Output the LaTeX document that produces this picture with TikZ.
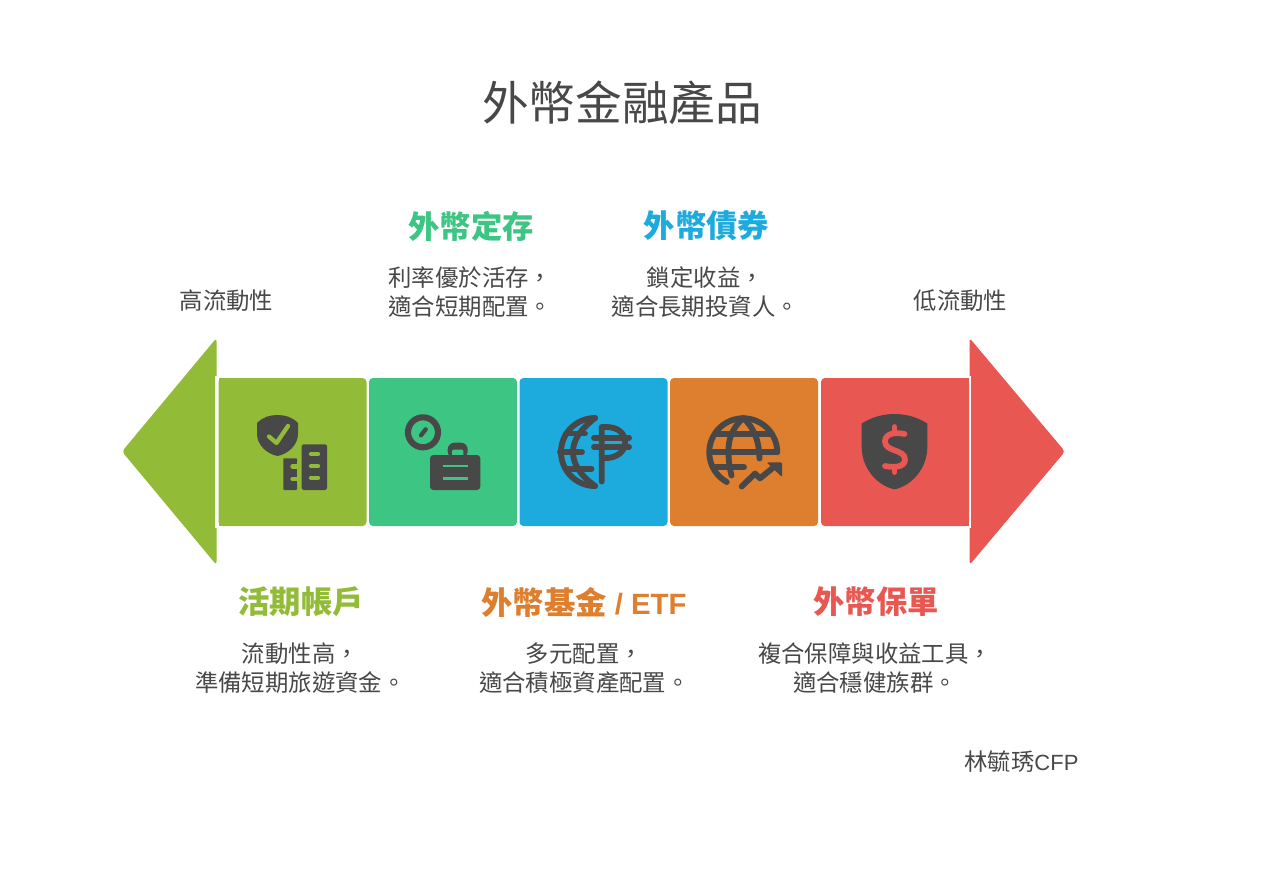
\documentclass[tikz,border=0pt]{standalone}
\usepackage{fontspec}
\setmainfont{Noto Sans CJK TC}
\newfontfamily\latinface{Liberation Sans}
\definecolor{cGreen}{HTML}{92BC37}
\definecolor{cTeal}{HTML}{3CC583}
\definecolor{cBlue}{HTML}{1DABDD}
\definecolor{cOrange}{HTML}{DD7F2E}
\definecolor{cRed}{HTML}{E85752}
\definecolor{cInk}{HTML}{484848}
\tikzset{
  tile/.style={minimum width=111pt,minimum height=111pt,inner sep=0pt,rounded corners=3pt},
  bodytext/.style={text=cInk,align=center,inner sep=0pt,font=\fontsize{17.55}{21.75}\selectfont},
  headtext/.style={inner sep=0pt,font=\fontsize{23.5}{28}\selectfont\bfseries},
  ico/.style={draw=cInk,line width=4.4pt,line cap=round,line join=round},
}
\begin{document}
\begin{tikzpicture}[x=0.75pt,y=-0.75pt]
\useasboundingbox[fill=white] (0,0) rectangle (1280,869);

% end arrows
\fill[cGreen,rounded corners=2.5pt] (216.5,338) -- (122,451.5) -- (216.5,565) -- cycle;
\fill[cRed,rounded corners=2.5pt] (969.5,338) -- (1065,451.5) -- (969.5,565) -- cycle;
\fill[white] (215,376) rectangle (218.5,528);
\fill[white] (968.8,376) rectangle (970.5,528);

% tiles
\node[tile,fill=cGreen] (tileA) at (292.5,452) {};
\fill[cGreen] (218.5,378) rectangle (230,526);
\node[tile,fill=cTeal] (tileB) at (443,452) {};
\node[tile,fill=cBlue] (tileC) at (593.5,452) {};
\node[tile,fill=cOrange] (tileD) at (744,452) {};
\node[tile,fill=cRed] (tileE) at (895,452) {};
\fill[cRed] (960,378) rectangle (968.8,526);

% icon: shield with check + buildings
\fill[cInk] (257,423) .. controls (263,417) and (270,415) .. (277.5,415)
  .. controls (285,415) and (292,417) .. (298,423)
  -- (298,434) .. controls (298,445) and (288,454) .. (277.5,456)
  .. controls (267,454) and (257,445) .. (257,434) -- cycle;
\draw[draw=cGreen,line width=3.2pt,line cap=round,line join=round] (269,436.5) -- (276.5,443) -- (288,426);
\fill[cInk,rounded corners=1.2pt] (301.7,444.3) rectangle (327,490);
\foreach \yy in {454,466,477.7}
  \draw[draw=cGreen,line width=3.2pt,line cap=round] (311,\yy) -- (318,\yy);
\fill[cInk,rounded corners=0.6pt] (283.3,458.3) rectangle (297,490);
\foreach \yy in {466.5,479}
  \draw[draw=cGreen,line width=3.2pt,line cap=round] (292.5,\yy) -- (298.5,\yy);
\fill[cGreen] (297,462) rectangle (299.5,484);

% icon: clock + briefcase
\draw[ico,line width=4.6pt] (423,432.3) circle [radius=15];
\draw[ico,line width=3.2pt] (421,435.3) -- (425.7,429.3);
\fill[cInk,rounded corners=5pt] (447.7,442.7) rectangle (467.7,458);
\fill[cTeal,rounded corners=1.5pt] (452,449.5) rectangle (463.4,458);
\fill[cInk,rounded corners=2.5pt] (430,455) rectangle (480.3,490);
\draw[draw=cTeal,line width=2.2pt] (443,466) -- (468,466);
\draw[draw=cTeal,line width=2.2pt] (443,478.7) -- (468,478.7);

% icon: half globe + peso
\draw[ico] (595,418) arc[start angle=270,end angle=90,radius=34];
\draw[ico] (595,418) .. controls (580,430) and (573,440) .. (573,452)
  .. controls (573,464) and (580,475) .. (595,486);
\draw[ico] (560,452) -- (582,452);
\draw[ico] (566,433.5) -- (585,433.5);
\draw[ico] (566,468.7) -- (591.5,468.7);
\draw[ico] (601.7,481.5) -- (601.7,427) -- (606,427)
  .. controls (618,427) and (625,433) .. (625,442.5)
  .. controls (625,452) and (616,458) .. (606,458) -- (601.7,458);
\draw[ico] (594,437.7) -- (629,437.7);
\draw[ico] (594,447.3) -- (629,447.3);

% icon: globe + trend
\draw[ico] (726.8,482) arc[start angle=119,end angle=360,radius=34];
\draw[ico] (743.3,418) .. controls (732,428) and (728,440) .. (728.5,452)
  .. controls (728.5,460) and (729.5,468) .. (731.5,475.5);
\draw[ico] (743.3,418) .. controls (754,428) and (759,440) .. (759.5,458.5);
\draw[ico] (716,434) -- (771,434);
\draw[ico] (713,452) -- (777,452);
\draw[ico] (716,467.3) -- (744,467.3);
\draw[ico] (741.7,486.5) -- (755,473.5) -- (760,478.3) -- (774,467);
\fill[cInk,rounded corners=1pt] (766.5,462.3) -- (782,462.3) -- (782,477) -- cycle;

% icon: shield with dollar
\fill[cInk] (861.7,423.5) .. controls (872,417) and (883,414) .. (894.5,414)
  .. controls (906,414) and (917,417) .. (927.3,423.5)
  -- (927.3,447) .. controls (927.3,469) and (911,486) .. (894.5,489.3)
  .. controls (878,486) and (861.7,469) .. (861.7,447) -- cycle;
\draw[draw=cRed,line width=4.3pt,line cap=round,line join=round]
  (904.5,434) .. controls (898,432.5) and (885,432) .. (885,441.5)
  .. controls (885,452) and (905,449) .. (905,459.5)
  .. controls (905,468) and (892,467.5) .. (885,466);
\draw[draw=cRed,line width=4.3pt,line cap=round] (894.5,427) -- (894.5,433);
\draw[draw=cRed,line width=4.3pt,line cap=round] (894.5,467) -- (894.5,472);

% texts
\node[text=cInk,inner sep=0pt,font=\fontsize{35}{42}\selectfont] (title) at (622,103) {外幣金融產品};
\node[headtext,text=cTeal] (headB) at (471,226) {外幣定存};
\node[headtext,text=cBlue] (headC) at (706.5,226) {外幣債券};
\node[headtext,text=cGreen] (headA) at (301,602) {活期帳戶};
\node[headtext,text=cOrange] (headD) at (584,602) {外幣基金{\latinface\fontsize{22}{28}\selectfont\ / ETF}};
\node[headtext,text=cRed] (headE) at (876,602) {外幣保單};
\node[bodytext] (bodyB) at (470.3,292) {利率優於活存，\\適合短期配置。};
\node[bodytext] (bodyC) at (705.3,292) {鎖定收益，\\適合長期投資人。};
\node[bodytext] (bodyA) at (300.3,668) {流動性高，\\準備短期旅遊資金。};
\node[bodytext] (bodyD) at (584.3,668) {多元配置，\\適合積極資產配置。};
\node[bodytext] (bodyE) at (875,668) {複合保障與收益工具，\\適合穩健族群。};
\node[bodytext] (high) at (226.5,300.5) {高流動性};
\node[bodytext] (low) at (960.5,300.5) {低流動性};
\node[bodytext,anchor=west] (author) at (964,762) {林毓琇{\latinface\fontsize{16.5}{21}\selectfont CFP}};
\end{tikzpicture}
\end{document}
